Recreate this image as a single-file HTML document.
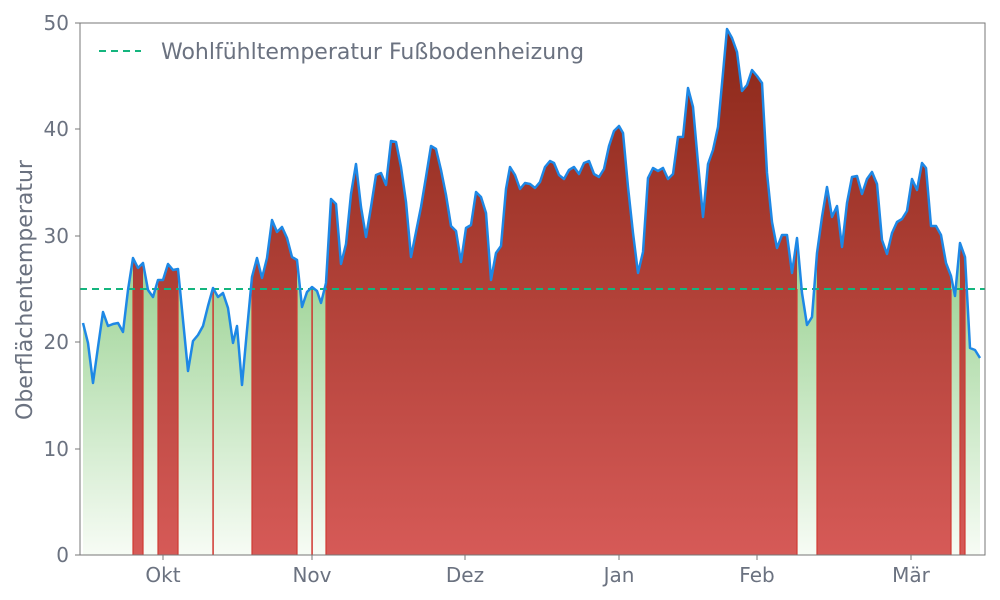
<!DOCTYPE html>
<html><head><meta charset="utf-8"><style>
body{margin:0;background:#fff;}
svg{display:block;font-family:"DejaVu Sans","Liberation Sans",sans-serif;}
</style></head><body>
<svg id="s" width="1000" height="600" viewBox="0 0 1000 600">
<defs>
<linearGradient id="rg" gradientUnits="userSpaceOnUse" x1="0" y1="23" x2="0" y2="555">
<stop offset="0" stop-color="#8a2718"/><stop offset="1" stop-color="#d65a57"/></linearGradient>
<linearGradient id="gg" gradientUnits="userSpaceOnUse" x1="0" y1="289" x2="0" y2="555">
<stop offset="0" stop-color="#a3d69c"/><stop offset="1" stop-color="#f7fcf5"/></linearGradient>
<clipPath id="rc"></clipPath>
</defs>
<rect x="80" y="23" width="905" height="532" fill="#fff"/>
<path id="ga" fill="url(#gg)"/>
<g clip-path="url(#rc)"><path id="ra" fill="url(#rg)"/></g>
<g id="edges" stroke="#d03a33" stroke-width="1.2"></g>
<line x1="80" y1="289" x2="985" y2="289" stroke="#14b57e" stroke-width="2" stroke-dasharray="7,5"/>
<polyline id="ln" fill="none" stroke="#1e88e5" stroke-width="2.5" stroke-linejoin="round"/>
<rect x="80" y="23" width="905" height="532" fill="none" stroke="#777" stroke-width="1"/>
<g fill="#6b7280" font-size="20" text-anchor="end">
<text x="69" y="562">0</text><text x="69" y="456">10</text><text x="69" y="349">20</text>
<text x="69" y="243">30</text><text x="69" y="136">40</text><text x="69" y="30">50</text>
</g>
<g stroke="#777"><line x1="75" y1="555" x2="80" y2="555"/><line x1="75" y1="449" x2="80" y2="449"/><line x1="75" y1="342" x2="80" y2="342"/><line x1="75" y1="236" x2="80" y2="236"/><line x1="75" y1="129" x2="80" y2="129"/><line x1="75" y1="23" x2="80" y2="23"/>
<line x1="163" y1="555" x2="163" y2="560"/><line x1="312" y1="555" x2="312" y2="560"/><line x1="465" y1="555" x2="465" y2="560"/><line x1="619" y1="555" x2="619" y2="560"/><line x1="757" y1="555" x2="757" y2="560"/><line x1="911" y1="555" x2="911" y2="560"/></g>
<g fill="#6b7280" font-size="20" text-anchor="middle">
<text x="163" y="582">Okt</text><text x="312" y="582">Nov</text><text x="465" y="582">Dez</text>
<text x="619" y="582">Jan</text><text x="757" y="582">Feb</text><text x="911" y="582">Mär</text>
</g>
<text transform="translate(32,290) rotate(-90)" fill="#6b7280" font-size="22" text-anchor="middle">Oberflächentemperatur</text>
<line x1="99" y1="51" x2="141" y2="51" stroke="#14b57e" stroke-width="2" stroke-dasharray="7,5"/>
<text x="161" y="59" fill="#6b7280" font-size="22">Wohlfühltemperatur Fußbodenheizung</text>
</svg>
<script>
var P=[[83,323],[88,343],[93,383],[98,347],[103,312],[108,326],[113,324],[118,323],[123,332],[128,290],[133,258],[138,268],[143,263],[148,290],[153,297],[158,280],[163,280],[168,264],[173,270],[178,269],[183,320],[188,371],[193,341],[198,335],[203,326],[208,306],[213,288],[218,297],[223,293],[228,308],[233,343],[237,326],[242,385],[247,330],[252,277],[257,258],[262,278],[267,258],[272,220],[277,232],[282,227],[287,238],[292,257],[297,260],[302,307],[307,292],[312,287],[317,291],[321,303],[326,283],[331,199],[336,204],[341,264],[346,244],[351,194],[356,164],[361,207],[366,237],[371,207],[376,175],[381,173],[386,185],[391,141],[396,142],[401,167],[406,202],[411,257],[416,232],[421,207],[426,177],[431,146],[436,149],[441,170],[446,195],[451,226],[456,231],[461,262],[466,228],[471,225],[476,192],[481,197],[486,213],[491,280],[496,253],[501,246],[506,189],[510,167],[515,175],[520,189],[525,183],[530,184],[535,188],[540,182],[545,167],[550,161],[554,163],[559,175],[564,179],[569,170],[574,167],[579,174],[584,163],[589,161],[594,174],[599,177],[604,169],[609,146],[614,131],[619,126],[623,133],[628,187],[633,233],[638,273],[643,252],[648,178],[653,168],[658,171],[663,168],[668,179],[673,174],[678,137],[683,137],[688,88],[693,107],[698,163],[703,217],[708,164],[713,150],[718,127],[723,73],[727,29],[732,38],[737,52],[742,91],[747,85],[752,70],[757,76],[762,83],[767,173],[772,222],[777,248],[782,235],[787,235],[792,273],[797,238],[802,293],[807,325],[812,317],[817,253],[822,217],[827,187],[832,217],[837,206],[842,247],[847,203],[852,177],[857,176],[862,194],[867,179],[872,172],[877,184],[882,240],[887,254],[892,233],[897,222],[902,219],[907,211],[912,179],[917,190],[922,163],[926,168],[931,226],[936,226],[941,235],[946,263],[951,276],[955,296],[960,243],[965,257],[970,348],[975,350],[980,358]];
var T=289,B=555,NS="http://www.w3.org/2000/svg";
var pts=P.map(function(p){return p.join(",")}).join(" ");
document.getElementById("ln").setAttribute("points",pts);
var area="M"+P[0][0]+","+B+" L"+pts.replace(/ /g," L")+" L"+P[P.length-1][0]+","+B+" Z";
document.getElementById("ga").setAttribute("d",area);
document.getElementById("ra").setAttribute("d",area);
var iv=[],start=null,last=null;
for(var i=0;i<P.length;i++){
 if(P[i][1]<T){if(start===null)start=P[i][0];last=P[i][0];}
 else if(start!==null){iv.push([start,last]);start=null;}
}
if(start!==null)iv.push([start,last]);
var rc=document.getElementById("rc"),ed=document.getElementById("edges");
iv.forEach(function(v){
 var r=document.createElementNS(NS,"rect");r.setAttribute("x",v[0]);r.setAttribute("y",0);r.setAttribute("width",Math.max(v[1]-v[0],0.8));r.setAttribute("height",600);rc.appendChild(r);
 v.forEach(function(x){var l=document.createElementNS(NS,"line");l.setAttribute("x1",x);l.setAttribute("x2",x);l.setAttribute("y1",T);l.setAttribute("y2",B);ed.appendChild(l);});
});
</script>
</body></html>
